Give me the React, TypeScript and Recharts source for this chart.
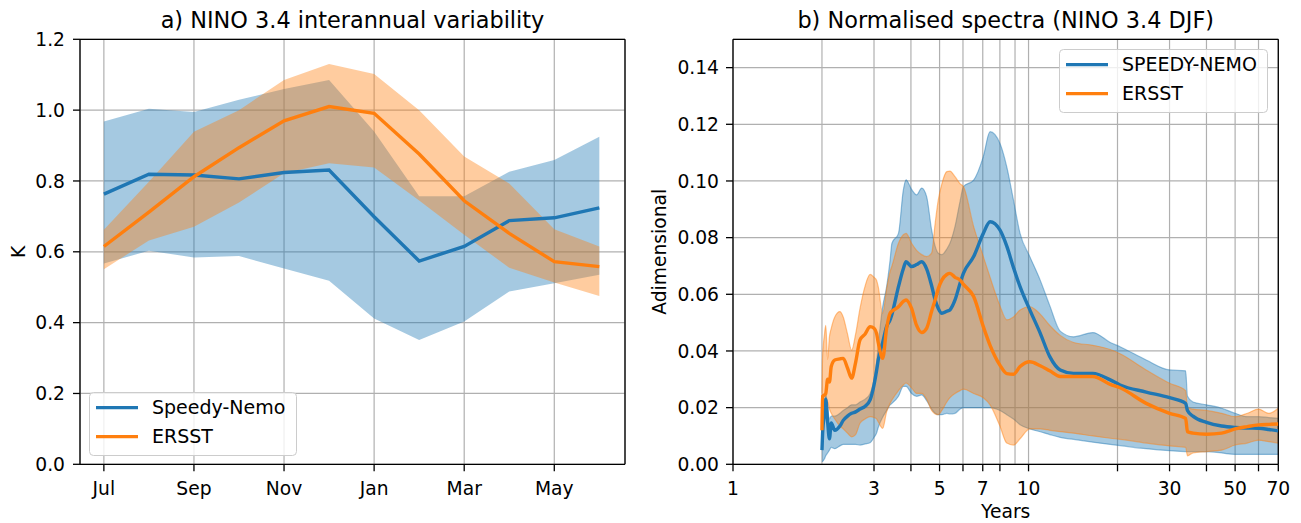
import React from 'react';
import { ComposedChart, Line, Area, XAxis, YAxis, CartesianGrid, Legend, ReferenceLine } from 'recharts';

const FONT = '"DejaVu Sans", sans-serif';
const BLUE = '#1f77b4';
const ORANGE = '#ff7f0e';
const GRID = '#b0b0b0';
const TICK_FS = 18.7;
const TICK_SIZE = 7;
const TICK_MARGIN = 10;

// ---------- panel a: NINO 3.4 interannual variability ----------
const months = ['Jul', 'Aug', 'Sep', 'Oct', 'Nov', 'Dec', 'Jan', 'Feb', 'Mar', 'Apr', 'May', 'Jun'];
const monthTickIdx = [0, 2, 4, 6, 8, 10];
const monthDomain = [-0.53, 11.57];
const kTicks = [0, 0.2, 0.4, 0.6, 0.8, 1.0, 1.2];
const nemoMonthly = [0.763, 0.819, 0.817, 0.806, 0.824, 0.831, 0.699, 0.574, 0.615, 0.688, 0.696, 0.724];
const nemoMonthlyLo = [0.567, 0.603, 0.584, 0.588, 0.553, 0.518, 0.412, 0.351, 0.403, 0.488, 0.511, 0.535];
const nemoMonthlyHi = [0.968, 1.004, 0.995, 1.029, 1.06, 1.085, 0.94, 0.757, 0.757, 0.826, 0.859, 0.925];
const ersstMonthly = [0.615, 0.712, 0.812, 0.894, 0.97, 1.01, 0.991, 0.876, 0.744, 0.652, 0.572, 0.558];
const ersstMonthlyLo = [0.551, 0.632, 0.671, 0.739, 0.822, 0.85, 0.838, 0.745, 0.648, 0.555, 0.513, 0.475];
const ersstMonthlyHi = [0.662, 0.798, 0.939, 1.0, 1.085, 1.13, 1.102, 1.0, 0.869, 0.793, 0.664, 0.615];

// ---------- panel b: Normalised spectra ----------
const periods = [2.0, 2.01, 2.04, 2.06, 2.09, 2.12, 2.15, 2.21, 2.3, 2.36, 2.44, 2.52, 2.6, 2.69, 2.8, 2.91, 3.0, 3.06, 3.1, 3.21, 3.31, 3.4, 3.45, 3.63, 3.77, 3.85, 4.02, 4.18, 4.35, 4.52, 4.7, 4.83, 4.95, 5.09, 5.29, 5.42, 5.64, 5.87, 6.02, 6.52, 7.03, 7.41, 8.0, 8.44, 8.89, 9.36, 10.1, 10.95, 11.8, 12.8, 14.2, 16.5, 18.9, 20.4, 25, 30, 34, 34.5, 36, 40, 45, 50, 55, 60, 65, 70];
const nemoSpec = [0.005, 0.011, 0.018, 0.023, 0.015, 0.009, 0.0146, 0.012, 0.0135, 0.0155, 0.017, 0.018, 0.0185, 0.0195, 0.0205, 0.0227, 0.028, 0.033, 0.0368, 0.043, 0.0486, 0.051, 0.053, 0.0627, 0.069, 0.0715, 0.0698, 0.0705, 0.0715, 0.069, 0.063, 0.058, 0.055, 0.0533, 0.054, 0.0545, 0.058, 0.064, 0.0674, 0.0733, 0.0815, 0.0856, 0.0827, 0.077, 0.0695, 0.0627, 0.0545, 0.0463, 0.038, 0.0333, 0.0321, 0.0321, 0.0298, 0.028, 0.0255, 0.0235, 0.0215, 0.019, 0.017, 0.0148, 0.0135, 0.013, 0.0128, 0.0127, 0.0123, 0.0118];
const nemoSpecLo = [0.001, 0.001, 0.002, 0.003, 0.004, 0.005, 0.006, 0.0055, 0.0065, 0.007, 0.007, 0.007, 0.007, 0.0068, 0.0072, 0.0076, 0.0095, 0.011, 0.013, 0.0166, 0.019, 0.021, 0.0215, 0.024, 0.0275, 0.0275, 0.025, 0.024, 0.0245, 0.0225, 0.0195, 0.018, 0.0175, 0.0175, 0.018, 0.0178, 0.018, 0.0195, 0.02, 0.02, 0.02, 0.02, 0.019, 0.0175, 0.016, 0.014, 0.0125, 0.0115, 0.0105, 0.0095, 0.0088, 0.0078, 0.007, 0.0066, 0.0055, 0.0048, 0.0045, 0.0045, 0.0045, 0.0045, 0.004, 0.0035, 0.0035, 0.0035, 0.0035, 0.0035];
const nemoSpecHi = [0.011, 0.015, 0.021, 0.025, 0.02, 0.016, 0.017, 0.017, 0.018, 0.019, 0.02, 0.021, 0.021, 0.022, 0.023, 0.025, 0.03, 0.036, 0.042, 0.0556, 0.0627, 0.072, 0.078, 0.0815, 0.0968, 0.1004, 0.097, 0.0951, 0.0975, 0.0945, 0.0827, 0.077, 0.0745, 0.074, 0.076, 0.078, 0.084, 0.093, 0.098, 0.1003, 0.1086, 0.1174, 0.1133, 0.105, 0.0933, 0.0815, 0.0733, 0.065, 0.056, 0.047, 0.045, 0.0465, 0.043, 0.0415, 0.0368, 0.0333, 0.033, 0.024, 0.022, 0.021, 0.0198, 0.018, 0.0168, 0.0168, 0.0165, 0.0162];
const ersstSpec = [0.012, 0.024, 0.0245, 0.025, 0.03, 0.029, 0.0345, 0.0368, 0.0372, 0.0374, 0.034, 0.0304, 0.036, 0.0439, 0.046, 0.0486, 0.048, 0.0462, 0.043, 0.0374, 0.048, 0.0533, 0.054, 0.0556, 0.0575, 0.058, 0.055, 0.049, 0.0465, 0.048, 0.054, 0.058, 0.062, 0.065, 0.067, 0.0674, 0.066, 0.065, 0.0635, 0.0592, 0.0486, 0.042, 0.035, 0.032, 0.0318, 0.0345, 0.0362, 0.0348, 0.033, 0.031, 0.031, 0.031, 0.0282, 0.027, 0.0215, 0.018, 0.0162, 0.0115, 0.011, 0.0106, 0.011, 0.0125, 0.0133, 0.0139, 0.0141, 0.0142];
const ersstSpecLo = [0.011, 0.015, 0.02, 0.021, 0.022, 0.0195, 0.018, 0.016, 0.0135, 0.0125, 0.011, 0.0097, 0.0105, 0.0145, 0.016, 0.0168, 0.0165, 0.016, 0.015, 0.0127, 0.0185, 0.0215, 0.0227, 0.026, 0.028, 0.0287, 0.027, 0.025, 0.025, 0.023, 0.019, 0.0178, 0.0175, 0.019, 0.022, 0.0235, 0.025, 0.026, 0.0265, 0.025, 0.0235, 0.021, 0.0135, 0.0075, 0.0068, 0.009, 0.0125, 0.0125, 0.012, 0.0115, 0.011, 0.01, 0.0092, 0.0088, 0.0075, 0.0065, 0.006, 0.003, 0.004, 0.0045, 0.005, 0.0068, 0.0075, 0.0085, 0.008, 0.0075];
const ersstSpecHi = [0.025, 0.038, 0.046, 0.049, 0.037, 0.045, 0.048, 0.052, 0.0539, 0.052, 0.046, 0.0403, 0.046, 0.055, 0.063, 0.067, 0.066, 0.065, 0.0627, 0.0533, 0.062, 0.068, 0.07, 0.078, 0.081, 0.0815, 0.078, 0.0755, 0.074, 0.0733, 0.0745, 0.085, 0.0933, 0.099, 0.1033, 0.1035, 0.1015, 0.099, 0.098, 0.0839, 0.0733, 0.066, 0.056, 0.051, 0.052, 0.0545, 0.0556, 0.053, 0.049, 0.0455, 0.043, 0.042, 0.0405, 0.039, 0.0333, 0.0286, 0.026, 0.02, 0.0195, 0.019, 0.018, 0.0168, 0.018, 0.0195, 0.018, 0.0198];
const specTicks = [0, 0.02, 0.04, 0.06, 0.08, 0.1, 0.12, 0.14];
const specDomain = [0, 0.15];
const periodDomain = [1, 70];
const periodTicks = [1, 2, 3, 4, 5, 6, 7, 8, 9, 10, 20, 30, 40, 50, 60, 70];
const periodLabels = [1, 3, 5, 7, 10, 30, 50, 70];
const periodNoMark = [2, 9];

const monthlyData = months.map((m, i) => ({
  idx: i,
  month: m,
  nemo: nemoMonthly[i],
  nemoBand: [nemoMonthlyLo[i], nemoMonthlyHi[i]],
  ersst: ersstMonthly[i],
  ersstBand: [ersstMonthlyLo[i], ersstMonthlyHi[i]],
}));

const specData = periods.map((p, i) => ({
  period: p,
  nemo: nemoSpec[i],
  nemoBand: [nemoSpecLo[i], nemoSpecHi[i]],
  ersst: ersstSpec[i],
  ersstBand: [ersstSpecLo[i], ersstSpecHi[i]],
}));

const tickStyle = { fontSize: TICK_FS, fill: '#000', fontFamily: FONT };
const axisLineStyle = { stroke: '#000', strokeWidth: 1.3 };
const tickLineStyle = { stroke: '#000', strokeWidth: 1.3 };

const makeLegend = (order: string[], w: number, h: number) => (props: any) => {
  const items = (props.payload || [])
    .filter((p: any) => p.type !== 'none' && order.includes(p.value))
    .sort((a: any, b: any) => order.indexOf(a.value) - order.indexOf(b.value));
  return (
    <svg width={w} height={h} style={{ display: 'block', overflow: 'visible' }}>
      <rect x={0.5} y={0.5} width={w - 1} height={h - 1} rx={4} ry={4} fill="#fff" fillOpacity={0.8} stroke="#cccccc" strokeWidth={1} />
      {items.map((it: any, k: number) => {
        const cy = 15.6 + k * 29;
        return (
          <g key={k}>
            <line x1={7} x2={49} y1={cy} y2={cy} stroke={it.color} strokeWidth={3.4} />
            <text x={63} y={cy + 6.8} fontSize={19} fontFamily={FONT} fill="#000">{it.value}</text>
          </g>
        );
      })}
    </svg>
  );
};

const PeriodTick = (props: any) => {
  const { x, y, payload } = props;
  const v = payload.value;
  const axisY = y - TICK_SIZE - TICK_MARGIN;
  return (
    <g>
      {!periodNoMark.includes(v) && (
        <line x1={x} x2={x} y1={axisY} y2={axisY + TICK_SIZE} stroke="#000" strokeWidth={1.3} />
      )}
      {periodLabels.includes(v) && (
        <text x={x} y={y + 0.71 * TICK_FS} textAnchor="middle" fontSize={TICK_FS} fontFamily={FONT} fill="#000">
          {v}
        </text>
      )}
    </g>
  );
};

const LeftPanel = () => (
  <ComposedChart width={650} height={523} data={monthlyData} margin={{ top: 39.3, right: 25, left: 0, bottom: 18.7 }}>
    <XAxis
      dataKey="idx"
      type="number"
      domain={monthDomain}
      allowDataOverflow
      ticks={monthTickIdx}
      interval={0}
      tickFormatter={(i: number) => months[i]}
      tick={tickStyle}
      tickLine={tickLineStyle}
      axisLine={axisLineStyle}
      tickSize={TICK_SIZE}
      tickMargin={TICK_MARGIN}
      height={40}
    />
    <YAxis
      type="number"
      domain={[0, 1.2]}
      allowDataOverflow
      ticks={kTicks}
      interval={0}
      tickFormatter={(v: number) => v.toFixed(1)}
      tick={tickStyle}
      tickLine={tickLineStyle}
      axisLine={axisLineStyle}
      tickSize={TICK_SIZE}
      tickMargin={8}
      width={80}
    />
    <Area dataKey="nemoBand" type="linear" fill={BLUE} fillOpacity={0.4} stroke="none" legendType="none" isAnimationActive={false} />
    <Area dataKey="ersstBand" type="linear" fill={ORANGE} fillOpacity={0.4} stroke="none" legendType="none" isAnimationActive={false} />
    <CartesianGrid stroke={GRID} strokeWidth={1.2} />
    <ReferenceLine y={1.2} stroke="#000" strokeWidth={1.3} />
    <ReferenceLine x={monthDomain[1]} stroke="#000" strokeWidth={1.3} />
    <Line dataKey="nemo" name="Speedy-Nemo" type="linear" stroke={BLUE} strokeWidth={3.4} dot={false} isAnimationActive={false} />
    <Line dataKey="ersst" name="ERSST" type="linear" stroke={ORANGE} strokeWidth={3.4} dot={false} isAnimationActive={false} />
    <Legend
      layout="horizontal"
      verticalAlign="middle"
      align="center"
      wrapperStyle={{ left: 89.3, top: 391.7, width: 208, height: 64 }}
      content={makeLegend(['Speedy-Nemo', 'ERSST'], 208, 64)}
    />
  </ComposedChart>
);

const RightPanel = () => (
  <ComposedChart width={651} height={523} data={specData} margin={{ top: 39.3, right: 22.7, left: 0, bottom: 18.7 }}>
    <XAxis
      dataKey="period"
      type="number"
      scale="log"
      domain={periodDomain}
      allowDataOverflow
      ticks={periodTicks}
      interval={0}
      tick={<PeriodTick />}
      tickLine={false}
      axisLine={axisLineStyle}
      tickSize={TICK_SIZE}
      tickMargin={TICK_MARGIN}
      height={40}
    />
    <YAxis
      type="number"
      domain={specDomain}
      allowDataOverflow
      ticks={specTicks}
      interval={0}
      tickFormatter={(v: number) => v.toFixed(2)}
      tick={tickStyle}
      tickLine={tickLineStyle}
      axisLine={axisLineStyle}
      tickSize={TICK_SIZE}
      tickMargin={7}
      width={83}
    />
    <Area dataKey="nemoBand" type="monotone" fill={BLUE} fillOpacity={0.4} stroke={BLUE} strokeOpacity={0.45} strokeWidth={1.2} legendType="none" isAnimationActive={false} />
    <Area dataKey="ersstBand" type="monotone" fill={ORANGE} fillOpacity={0.4} stroke={ORANGE} strokeOpacity={0.45} strokeWidth={1.2} legendType="none" isAnimationActive={false} />
    <CartesianGrid stroke={GRID} strokeWidth={1.2} />
    <ReferenceLine y={specDomain[1]} stroke="#000" strokeWidth={1.3} />
    <ReferenceLine x={periodDomain[1]} stroke="#000" strokeWidth={1.3} />
    <Line dataKey="nemo" name="SPEEDY-NEMO" type="monotone" stroke={BLUE} strokeWidth={3.4} dot={false} isAnimationActive={false} />
    <Line dataKey="ersst" name="ERSST" type="monotone" stroke={ORANGE} strokeWidth={3.4} dot={false} isAnimationActive={false} />
    <Legend
      layout="horizontal"
      verticalAlign="middle"
      align="center"
      wrapperStyle={{ left: 409.3, top: 49.3, width: 209, height: 64 }}
      content={makeLegend(['SPEEDY-NEMO', 'ERSST'], 209, 64)}
    />
  </ComposedChart>
);

export default function App() {
  return (
    <div style={{ position: 'absolute', left: 0, top: 0, width: 1301, height: 523, background: '#fff', fontFamily: FONT }}>
      <div style={{ position: 'absolute', left: 0, top: 0 }}>
        <LeftPanel />
      </div>
      <div style={{ position: 'absolute', left: 650, top: 0 }}>
        <RightPanel />
      </div>
      <svg width={1301} height={523} style={{ position: 'absolute', left: 0, top: 0, pointerEvents: 'none' }}>
        <text x={352.5} y={28.3} textAnchor="middle" fontSize={22.4} fontFamily={FONT} fill="#000">a) NINO 3.4 interannual variability</text>
        <text x={1005.7} y={28.3} textAnchor="middle" fontSize={22.4} fontFamily={FONT} fill="#000">b) Normalised spectra (NINO 3.4 DJF)</text>
        <text x={25} y={251.8} transform="rotate(-90 25 251.8)" textAnchor="middle" fontSize={TICK_FS} fontFamily={FONT} fill="#000">K</text>
        <text x={666} y={251.8} transform="rotate(-90 666 251.8)" textAnchor="middle" fontSize={TICK_FS} fontFamily={FONT} fill="#000">Adimensional</text>
        <text x={1005.7} y={518} textAnchor="middle" fontSize={TICK_FS} fontFamily={FONT} fill="#000">Years</text>
      </svg>
    </div>
  );
}
